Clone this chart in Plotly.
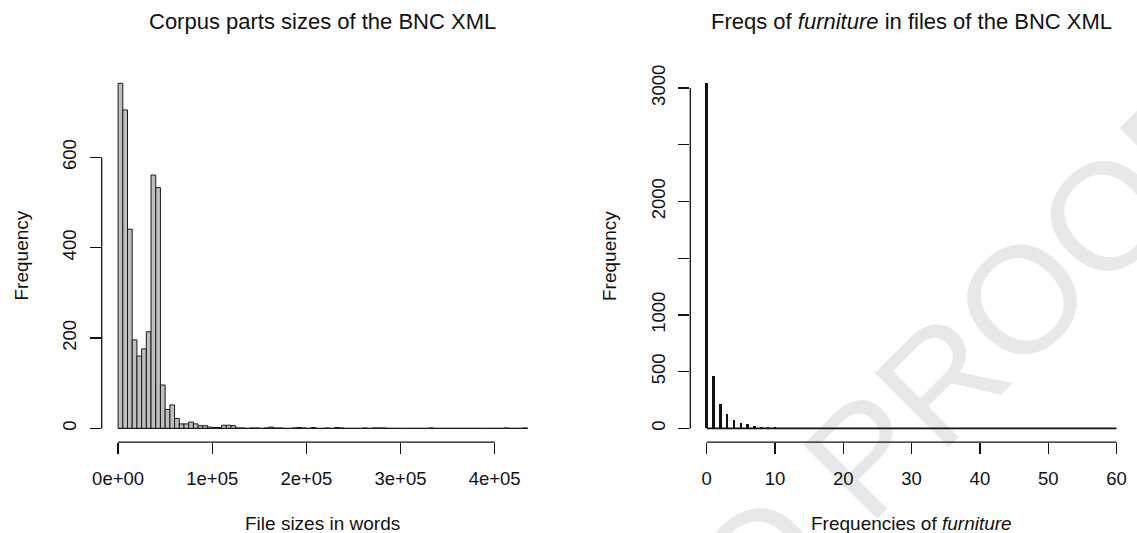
import plotly.graph_objects as go

# ---------------- data ----------------
# Left: histogram of BNC XML file sizes (bin width 5000 words)
bin_width = 5000
size_counts = [
    764, 705, 441, 196, 160, 176, 214, 561, 533, 96,
    42, 52, 22, 10, 10, 14, 10, 6, 6, 3,
    2, 2, 7, 7, 6, 1, 1, 0, 1, 1,
    0, 1, 3, 1, 1, 0, 0, 1, 2, 1,
    0, 2, 0, 0, 1, 0, 2, 1, 0, 0,
    0, 0, 1, 0, 1, 1, 1, 0, 0, 0,
    0, 0, 0, 0, 0, 0, 1, 0, 0, 0,
    0, 0, 0, 0, 0, 0, 0, 0, 0, 0,
    0, 0, 1, 0, 0, 0, 1,
]
left_xticks = [0, 100000, 200000, 300000, 400000]
left_xticktext = ["0e+00", "1e+05", "2e+05", "3e+05", "4e+05"]
left_yticks = [0, 200, 400, 600]

# Right: frequency of "furniture" per file
furn_values = list(range(0, 61))
furn_counts = [
    3042, 461, 214, 123, 73, 44, 35, 20, 15, 12,
    9, 7, 5, 4, 3, 3, 2, 2, 2, 1,
    2, 1, 1, 1, 1, 0, 1, 0, 1, 0,
    1, 0, 0, 1, 0, 1, 0, 0, 0, 1,
    0, 0, 0, 0, 1, 0, 0, 0, 0, 0,
    0, 0, 1, 0, 0, 0, 0, 0, 0, 0,
    1,
]
right_xticks = [0, 10, 20, 30, 40, 50, 60]
right_yticks = [0, 500, 1000, 1500, 2000, 2500, 3000]
right_yticktext = ["0", "500", "1000", "", "2000", "", "3000"]

titles = ["Corpus parts sizes of the BNC XML",
          "Freqs of <i>furniture</i> in files of the BNC XML"]
xtitles = ["File sizes in words", "Frequencies of <i>furniture</i>"]
ytitle = "Frequency"
watermark = "UNCORRECTED PROOF"

# ---------------- derived ----------------
W, H = 1137, 533
FONT = "Liberation Sans, Arial, Helvetica, sans-serif"
edges = [i * bin_width for i in range(len(size_counts) + 1)]
centers = [(edges[i] + edges[i + 1]) / 2 for i in range(len(size_counts))]

def ext(lo, hi):
    d = (hi - lo) * 0.04
    return [lo - d, hi + d]

left_dom_x = [101.7 / W, 544.0 / W]
right_dom_x = [690.3 / W, 1132.9 / W]
dom_y = [1 - 442.2 / H, 1 - 69.5 / H]

fig = go.Figure()

# left histogram
fig.add_trace(go.Bar(
    x=centers, y=size_counts, width=bin_width,
    marker=dict(color="#bebebe", line=dict(color="#1a1a1a", width=1)),
    xaxis="x", yaxis="y", showlegend=False, hoverinfo="x+y"))
fig.add_trace(go.Scatter(
    x=[edges[0], edges[-1]], y=[0, 0], mode="lines",
    line=dict(color="#1a1a1a", width=1), xaxis="x", yaxis="y",
    showlegend=False, hoverinfo="skip"))

# right spike plot
fig.add_trace(go.Scatter(
    x=[min(furn_values), max(furn_values)], y=[0, 0], mode="lines",
    line=dict(color="#111111", width=1.6), xaxis="x2", yaxis="y2",
    showlegend=False, hoverinfo="skip"))
fig.add_trace(go.Bar(
    x=furn_values, y=furn_counts, width=0.36,
    marker=dict(color="#111111", line=dict(width=0)),
    xaxis="x2", yaxis="y2", showlegend=False))

tickfont = dict(family=FONT, size=18.5, color="#111111")
axis_common = dict(showline=False, showgrid=False, zeroline=False,
                   ticks="outside", ticklen=11, tickwidth=1.3,
                   tickcolor="#111111", tickfont=tickfont, fixedrange=True,
                   automargin=False)

fig.update_layout(
    width=W, height=H,
    margin=dict(l=0, r=0, t=0, b=0, pad=0),
    paper_bgcolor="white", plot_bgcolor="rgba(0,0,0,0)",
    font=dict(family=FONT, color="#111111"),
    bargap=0,
    xaxis=dict(domain=left_dom_x, range=ext(edges[0], edges[-1]),
               tickmode="array", tickvals=left_xticks, ticktext=left_xticktext,
               ticklabelstandoff=9, anchor="y", **axis_common),
    yaxis=dict(domain=dom_y, range=ext(0, max(size_counts)),
               tickmode="array", tickvals=left_yticks,
               ticktext=[str(v) for v in left_yticks], tickangle=-90,
               ticklabelstandoff=6, anchor="x", **axis_common),
    xaxis2=dict(domain=right_dom_x, range=ext(min(furn_values), max(furn_values)),
                tickmode="array", tickvals=right_xticks,
                ticktext=[str(v) for v in right_xticks],
                ticklabelstandoff=9, anchor="y2", **axis_common),
    yaxis2=dict(domain=dom_y, range=ext(0, max(furn_counts)),
                tickmode="array", tickvals=right_yticks, ticktext=right_yticktext,
                tickangle=-90, ticklabelstandoff=6, anchor="x2", **axis_common),
)

# R-style axis lines spanning the tick range
line_style = dict(color="#111111", width=1.3)
fig.add_shape(type="line", xref="x domain", yref="y", x0=0, x1=0,
              y0=min(left_yticks), y1=max(left_yticks), line=line_style)
fig.add_shape(type="line", xref="x", yref="y domain", x0=min(left_xticks),
              x1=max(left_xticks), y0=0, y1=0, line=line_style)
fig.add_shape(type="line", xref="x2 domain", yref="y2", x0=0, x1=0,
              y0=min(right_yticks), y1=max(right_yticks), line=line_style)
fig.add_shape(type="line", xref="x2", yref="y2 domain", x0=min(right_xticks),
              x1=max(right_xticks), y0=0, y1=0, line=line_style)

# watermark (below the data)
cx, cy = 579.0, 722.0
fig.add_shape(type="line", xref="paper", yref="paper", layer="below",
              x0=(cx - 10) / W, x1=(cx + 10) / W,
              y0=1 - (cy + 10) / H, y1=1 - (cy - 10) / H,
              line=dict(color="rgba(0,0,0,0)", width=0),
              label=dict(text=watermark, textposition="middle",
                         textangle=-45, xanchor="center", yanchor="middle",
                         font=dict(family=FONT, size=152, color="#e7e8e9")))

# titles and axis labels
for i, (cxp, title, xt) in enumerate([(322.9, titles[0], xtitles[0]),
                                      (911.6, titles[1], xtitles[1])]):
    fig.add_annotation(text=title, xref="paper", yref="paper", x=cxp / W,
                       y=1 - 21 / H, xanchor="center", yanchor="middle",
                       showarrow=False, font=dict(family=FONT, size=22, color="#111111"))
    fig.add_annotation(text=xt, xref="paper", yref="paper", x=cxp / W,
                       y=1 - 523 / H, xanchor="center", yanchor="middle",
                       showarrow=False, font=dict(family=FONT, size=19, color="#111111"))
for xp in (20.5, 609.0):
    fig.add_annotation(text=ytitle, xref="paper", yref="paper", x=xp / W,
                       y=1 - 256 / H, xanchor="center", yanchor="middle",
                       textangle=-90, showarrow=False,
                       font=dict(family=FONT, size=19, color="#111111"))

fig.write_html(
    "out.html",
    config={"displayModeBar": False, "staticPlot": True},
    post_script="document.body.style.margin='0';document.body.style.overflow='hidden';",
)
